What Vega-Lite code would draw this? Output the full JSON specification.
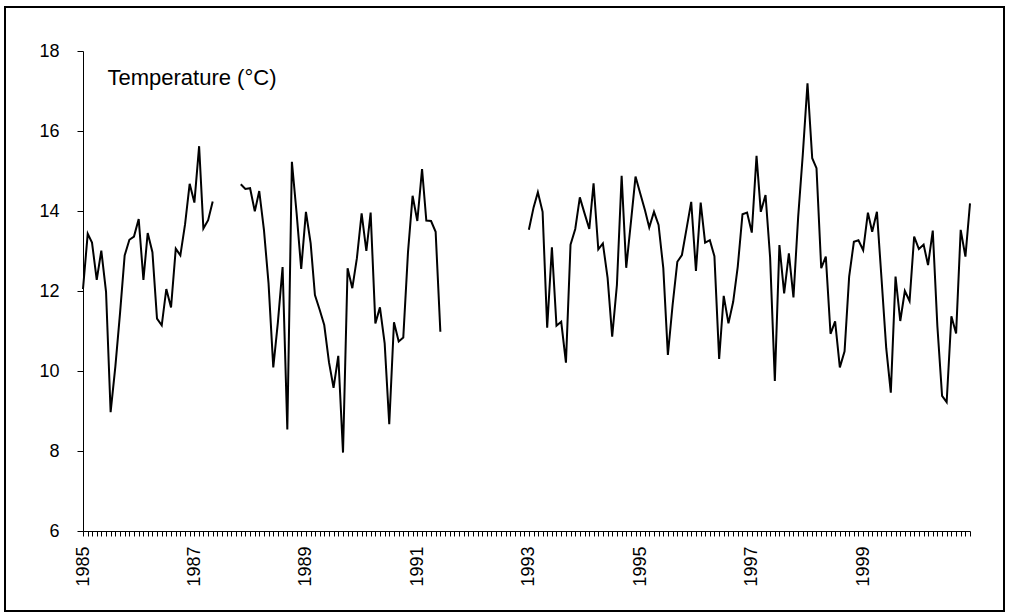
{
  "$schema": "https://vega.github.io/schema/vega-lite/v6.json",
  "width": 999,
  "height": 604,
  "autosize": "none",
  "padding": {"left": 5, "top": 7, "right": 5, "bottom": 5},
  "background": "white",
  "config": {
    "view": {"stroke": "black", "strokeWidth": 2, "fill": "white"},
    "font": "Liberation Sans"
  },
  "data": {
    "values": [
      {"date": "1985-01-01", "temp": 12.05, "seg": 1},
      {"date": "1985-02-01", "temp": 13.43, "seg": 1},
      {"date": "1985-03-01", "temp": 13.21, "seg": 1},
      {"date": "1985-04-01", "temp": 12.28, "seg": 1},
      {"date": "1985-05-01", "temp": 13.01, "seg": 1},
      {"date": "1985-06-01", "temp": 11.98, "seg": 1},
      {"date": "1985-07-01", "temp": 8.97, "seg": 1},
      {"date": "1985-08-01", "temp": 10.11, "seg": 1},
      {"date": "1985-09-01", "temp": 11.46, "seg": 1},
      {"date": "1985-10-01", "temp": 12.89, "seg": 1},
      {"date": "1985-11-01", "temp": 13.28, "seg": 1},
      {"date": "1985-12-01", "temp": 13.36, "seg": 1},
      {"date": "1986-01-01", "temp": 13.80, "seg": 1},
      {"date": "1986-02-01", "temp": 12.28, "seg": 1},
      {"date": "1986-03-01", "temp": 13.45, "seg": 1},
      {"date": "1986-04-01", "temp": 12.97, "seg": 1},
      {"date": "1986-05-01", "temp": 11.31, "seg": 1},
      {"date": "1986-06-01", "temp": 11.14, "seg": 1},
      {"date": "1986-07-01", "temp": 12.05, "seg": 1},
      {"date": "1986-08-01", "temp": 11.59, "seg": 1},
      {"date": "1986-09-01", "temp": 13.06, "seg": 1},
      {"date": "1986-10-01", "temp": 12.89, "seg": 1},
      {"date": "1986-11-01", "temp": 13.67, "seg": 1},
      {"date": "1986-12-01", "temp": 14.68, "seg": 1},
      {"date": "1987-01-01", "temp": 14.21, "seg": 1},
      {"date": "1987-02-01", "temp": 15.62, "seg": 1},
      {"date": "1987-03-01", "temp": 13.56, "seg": 1},
      {"date": "1987-04-01", "temp": 13.77, "seg": 1},
      {"date": "1987-05-01", "temp": 14.24, "seg": 1},
      {"date": "1987-11-01", "temp": 14.67, "seg": 2},
      {"date": "1987-12-01", "temp": 14.55, "seg": 2},
      {"date": "1988-01-01", "temp": 14.57, "seg": 2},
      {"date": "1988-02-01", "temp": 13.99, "seg": 2},
      {"date": "1988-03-01", "temp": 14.50, "seg": 2},
      {"date": "1988-04-01", "temp": 13.52, "seg": 2},
      {"date": "1988-05-01", "temp": 12.19, "seg": 2},
      {"date": "1988-06-01", "temp": 10.09, "seg": 2},
      {"date": "1988-07-01", "temp": 11.21, "seg": 2},
      {"date": "1988-08-01", "temp": 12.60, "seg": 2},
      {"date": "1988-09-01", "temp": 8.54, "seg": 2},
      {"date": "1988-10-01", "temp": 15.23, "seg": 2},
      {"date": "1988-11-01", "temp": 13.94, "seg": 2},
      {"date": "1988-12-01", "temp": 12.55, "seg": 2},
      {"date": "1989-01-01", "temp": 13.98, "seg": 2},
      {"date": "1989-02-01", "temp": 13.19, "seg": 2},
      {"date": "1989-03-01", "temp": 11.90, "seg": 2},
      {"date": "1989-04-01", "temp": 11.53, "seg": 2},
      {"date": "1989-05-01", "temp": 11.15, "seg": 2},
      {"date": "1989-06-01", "temp": 10.22, "seg": 2},
      {"date": "1989-07-01", "temp": 9.58, "seg": 2},
      {"date": "1989-08-01", "temp": 10.38, "seg": 2},
      {"date": "1989-09-01", "temp": 7.96, "seg": 2},
      {"date": "1989-10-01", "temp": 12.57, "seg": 2},
      {"date": "1989-11-01", "temp": 12.07, "seg": 2},
      {"date": "1989-12-01", "temp": 12.82, "seg": 2},
      {"date": "1990-01-01", "temp": 13.94, "seg": 2},
      {"date": "1990-02-01", "temp": 13.00, "seg": 2},
      {"date": "1990-03-01", "temp": 13.96, "seg": 2},
      {"date": "1990-04-01", "temp": 11.19, "seg": 2},
      {"date": "1990-05-01", "temp": 11.59, "seg": 2},
      {"date": "1990-06-01", "temp": 10.69, "seg": 2},
      {"date": "1990-07-01", "temp": 8.67, "seg": 2},
      {"date": "1990-08-01", "temp": 11.22, "seg": 2},
      {"date": "1990-09-01", "temp": 10.74, "seg": 2},
      {"date": "1990-10-01", "temp": 10.84, "seg": 2},
      {"date": "1990-11-01", "temp": 12.98, "seg": 2},
      {"date": "1990-12-01", "temp": 14.38, "seg": 2},
      {"date": "1991-01-01", "temp": 13.75, "seg": 2},
      {"date": "1991-02-01", "temp": 15.05, "seg": 2},
      {"date": "1991-03-01", "temp": 13.76, "seg": 2},
      {"date": "1991-04-01", "temp": 13.75, "seg": 2},
      {"date": "1991-05-01", "temp": 13.48, "seg": 2},
      {"date": "1991-06-01", "temp": 10.98, "seg": 2},
      {"date": "1993-01-01", "temp": 13.53, "seg": 3},
      {"date": "1993-02-01", "temp": 14.09, "seg": 3},
      {"date": "1993-03-01", "temp": 14.47, "seg": 3},
      {"date": "1993-04-01", "temp": 13.98, "seg": 3},
      {"date": "1993-05-01", "temp": 11.08, "seg": 3},
      {"date": "1993-06-01", "temp": 13.09, "seg": 3},
      {"date": "1993-07-01", "temp": 11.13, "seg": 3},
      {"date": "1993-08-01", "temp": 11.23, "seg": 3},
      {"date": "1993-09-01", "temp": 10.21, "seg": 3},
      {"date": "1993-10-01", "temp": 13.16, "seg": 3},
      {"date": "1993-11-01", "temp": 13.55, "seg": 3},
      {"date": "1993-12-01", "temp": 14.34, "seg": 3},
      {"date": "1994-01-01", "temp": 13.94, "seg": 3},
      {"date": "1994-02-01", "temp": 13.55, "seg": 3},
      {"date": "1994-03-01", "temp": 14.69, "seg": 3},
      {"date": "1994-04-01", "temp": 13.04, "seg": 3},
      {"date": "1994-05-01", "temp": 13.19, "seg": 3},
      {"date": "1994-06-01", "temp": 12.33, "seg": 3},
      {"date": "1994-07-01", "temp": 10.86, "seg": 3},
      {"date": "1994-08-01", "temp": 12.15, "seg": 3},
      {"date": "1994-09-01", "temp": 14.88, "seg": 3},
      {"date": "1994-10-01", "temp": 12.58, "seg": 3},
      {"date": "1994-11-01", "temp": 13.73, "seg": 3},
      {"date": "1994-12-01", "temp": 14.86, "seg": 3},
      {"date": "1995-01-01", "temp": 14.44, "seg": 3},
      {"date": "1995-02-01", "temp": 14.02, "seg": 3},
      {"date": "1995-03-01", "temp": 13.59, "seg": 3},
      {"date": "1995-04-01", "temp": 13.98, "seg": 3},
      {"date": "1995-05-01", "temp": 13.65, "seg": 3},
      {"date": "1995-06-01", "temp": 12.57, "seg": 3},
      {"date": "1995-07-01", "temp": 10.40, "seg": 3},
      {"date": "1995-08-01", "temp": 11.65, "seg": 3},
      {"date": "1995-09-01", "temp": 12.73, "seg": 3},
      {"date": "1995-10-01", "temp": 12.90, "seg": 3},
      {"date": "1995-11-01", "temp": 13.57, "seg": 3},
      {"date": "1995-12-01", "temp": 14.23, "seg": 3},
      {"date": "1996-01-01", "temp": 12.50, "seg": 3},
      {"date": "1996-02-01", "temp": 14.21, "seg": 3},
      {"date": "1996-03-01", "temp": 13.21, "seg": 3},
      {"date": "1996-04-01", "temp": 13.27, "seg": 3},
      {"date": "1996-05-01", "temp": 12.87, "seg": 3},
      {"date": "1996-06-01", "temp": 10.30, "seg": 3},
      {"date": "1996-07-01", "temp": 11.88, "seg": 3},
      {"date": "1996-08-01", "temp": 11.19, "seg": 3},
      {"date": "1996-09-01", "temp": 11.73, "seg": 3},
      {"date": "1996-10-01", "temp": 12.61, "seg": 3},
      {"date": "1996-11-01", "temp": 13.92, "seg": 3},
      {"date": "1996-12-01", "temp": 13.96, "seg": 3},
      {"date": "1997-01-01", "temp": 13.46, "seg": 3},
      {"date": "1997-02-01", "temp": 15.38, "seg": 3},
      {"date": "1997-03-01", "temp": 13.98, "seg": 3},
      {"date": "1997-04-01", "temp": 14.40, "seg": 3},
      {"date": "1997-05-01", "temp": 12.84, "seg": 3},
      {"date": "1997-06-01", "temp": 9.75, "seg": 3},
      {"date": "1997-07-01", "temp": 13.15, "seg": 3},
      {"date": "1997-08-01", "temp": 11.94, "seg": 3},
      {"date": "1997-09-01", "temp": 12.94, "seg": 3},
      {"date": "1997-10-01", "temp": 11.84, "seg": 3},
      {"date": "1997-11-01", "temp": 13.86, "seg": 3},
      {"date": "1997-12-01", "temp": 15.40, "seg": 3},
      {"date": "1998-01-01", "temp": 17.19, "seg": 3},
      {"date": "1998-02-01", "temp": 15.32, "seg": 3},
      {"date": "1998-03-01", "temp": 15.07, "seg": 3},
      {"date": "1998-04-01", "temp": 12.57, "seg": 3},
      {"date": "1998-05-01", "temp": 12.86, "seg": 3},
      {"date": "1998-06-01", "temp": 10.93, "seg": 3},
      {"date": "1998-07-01", "temp": 11.24, "seg": 3},
      {"date": "1998-08-01", "temp": 10.09, "seg": 3},
      {"date": "1998-09-01", "temp": 10.49, "seg": 3},
      {"date": "1998-10-01", "temp": 12.36, "seg": 3},
      {"date": "1998-11-01", "temp": 13.23, "seg": 3},
      {"date": "1998-12-01", "temp": 13.27, "seg": 3},
      {"date": "1999-01-01", "temp": 13.02, "seg": 3},
      {"date": "1999-02-01", "temp": 13.96, "seg": 3},
      {"date": "1999-03-01", "temp": 13.48, "seg": 3},
      {"date": "1999-04-01", "temp": 13.98, "seg": 3},
      {"date": "1999-05-01", "temp": 12.32, "seg": 3},
      {"date": "1999-06-01", "temp": 10.57, "seg": 3},
      {"date": "1999-07-01", "temp": 9.46, "seg": 3},
      {"date": "1999-08-01", "temp": 12.36, "seg": 3},
      {"date": "1999-09-01", "temp": 11.25, "seg": 3},
      {"date": "1999-10-01", "temp": 12.00, "seg": 3},
      {"date": "1999-11-01", "temp": 11.75, "seg": 3},
      {"date": "1999-12-01", "temp": 13.36, "seg": 3},
      {"date": "2000-01-01", "temp": 13.05, "seg": 3},
      {"date": "2000-02-01", "temp": 13.16, "seg": 3},
      {"date": "2000-03-01", "temp": 12.65, "seg": 3},
      {"date": "2000-04-01", "temp": 13.51, "seg": 3},
      {"date": "2000-05-01", "temp": 11.13, "seg": 3},
      {"date": "2000-06-01", "temp": 9.38, "seg": 3},
      {"date": "2000-07-01", "temp": 9.22, "seg": 3},
      {"date": "2000-08-01", "temp": 11.37, "seg": 3},
      {"date": "2000-09-01", "temp": 10.94, "seg": 3},
      {"date": "2000-10-01", "temp": 13.53, "seg": 3},
      {"date": "2000-11-01", "temp": 12.86, "seg": 3},
      {"date": "2000-12-01", "temp": 14.19, "seg": 3}
    ]
  },
  "mark": {"type": "line", "color": "black", "strokeWidth": 2},
  "encoding": {
    "x": {
      "field": "date",
      "type": "temporal",
      "scale": {
        "type": "utc",
        "domain": [
          {"year": 1985, "month": 1, "date": 1, "utc": true},
          {"year": 2000, "month": 12, "date": 1, "utc": true}
        ],
        "range": [78, 965]
      },
      "axis": {
        "title": null,
        "offset": -80,
        "grid": false,
        "tickCount": {"interval": "month", "step": 1},
        "labelExpr": "utcmonth(datum.value) == 0 && utcyear(datum.value) % 2 == 1 ? utcFormat(datum.value, '%Y') : ''",
        "labelOverlap": false,
        "labelFlush": false,
        "labelBound": false,
        "labelAngle": -90,
        "labelPadding": 10,
        "labelFont": "Liberation Sans",
        "labelFontSize": 18,
        "labelColor": "black",
        "tickSize": 5,
        "tickColor": "black",
        "domainColor": "black",
        "domainWidth": 1
      }
    },
    "y": {
      "field": "temp",
      "type": "quantitative",
      "scale": {"domain": [6, 18], "range": [524, 44], "zero": false, "nice": false},
      "axis": {
        "values": [6, 8, 10, 12, 14, 16, 18],
        "offset": -78,
        "grid": false,
        "tickSize": 6,
        "tickColor": "black",
        "domainColor": "black",
        "domainWidth": 1,
        "labelPadding": 18,
        "labelFont": "Liberation Sans",
        "labelFontSize": 18,
        "labelColor": "black",
        "title": "Temperature (°C)",
        "titleAngle": 0,
        "titleAlign": "left",
        "titleBaseline": "middle",
        "titleX": 24,
        "titleY": 70,
        "titleFont": "Liberation Sans",
        "titleFontSize": 22,
        "titleFontWeight": "normal",
        "titleColor": "black"
      }
    },
    "detail": {"field": "seg", "type": "nominal"}
  }
}
